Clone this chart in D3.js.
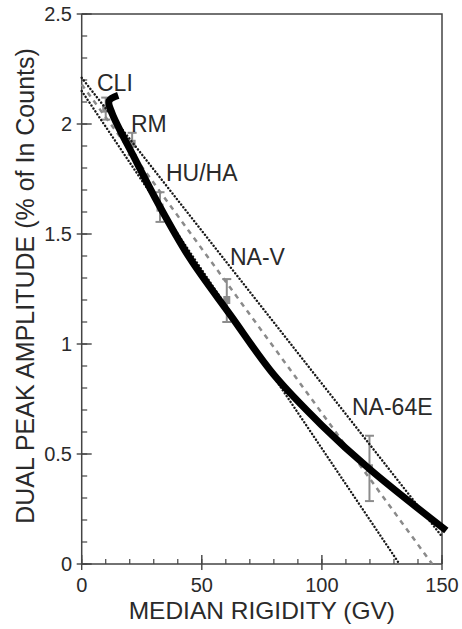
<!DOCTYPE html>
<html>
<head>
<meta charset="utf-8">
<script src="https://cdn.jsdelivr.net/npm/d3@7"></script>
<style>
  html, body { margin: 0; padding: 0; background: #fff; }
  svg { display: block; font-family: "Liberation Sans", Arial, Helvetica, sans-serif; }
</style>
</head>
<body>
<svg id="viz" width="462" height="629"></svg>
<script>
// stations: median rigidity (GV), amplitude and error bar range
const stations = ["CLI", "RM", "HU/HA", "NA-V", "NA-64E"];
const rigidity = [10, 21, 32.6, 60.4, 119.8];
const amplitude = [2.07, 1.91, 1.62, 1.20, 0.435];
const errLow = [2.02, 1.86, 1.555, 1.10, 0.286];
const errHigh = [2.12, 1.96, 1.69, 1.295, 0.583];

// fitted line and its bounds
const fitLine = [[0, 2.18], [145.9, 0]];
const upperBound = [[0, 2.21], [150, 0.125]];
const lowerBound = [[0, 2.15], [132.3, 0]];

// thick model curve
const modelCurve = [[15.2, 2.13], [11.4, 2.105], [12.6, 2.05], [22, 1.845], [32, 1.635],
  [45, 1.39], [62, 1.13], [80, 0.86], [100, 0.63], [120, 0.43], [151.8, 0.152]];

const xMajor = [0, 50, 100, 150];
const xMinor = d3.range(0, 151, 10);
const yMajor = [0, 0.5, 1, 1.5, 2, 2.5];
const yMinor = d3.range(0, 26).map(d => d / 10);
const yLabels = ["0", "0.5", "1", "1.5", "2", "2.5"];

const svg = d3.select("#viz");
const x = d3.scaleLinear().domain([0, 150]).range([81.7, 442]);
const y = d3.scaleLinear().domain([0, 2.5]).range([564, 14]);

const axisColor = "#444";
const textColor = "#2a2a2a";
const line = d3.line().x(d => x(d[0])).y(d => y(d[1]));

// frame
const frame = svg.append("g");
frame.append("path")
  .attr("d", `M${x(0)},${y(2.5)}H${x(150)}V${y(0)}`)
  .attr("fill", "none").attr("stroke", axisColor).attr("stroke-width", 1.5);
frame.append("path")
  .attr("d", `M${x(0)},${y(2.5)}V${y(0)}H${x(150)}`)
  .attr("fill", "none").attr("stroke", axisColor).attr("stroke-width", 1.5);

// y ticks
frame.selectAll(".ymin").data(yMinor).join("line")
  .attr("x1", x(0)).attr("x2", x(0) + 5.5)
  .attr("y1", d => y(d)).attr("y2", d => y(d))
  .attr("stroke", axisColor).attr("stroke-width", 1.2);
frame.selectAll(".ymaj").data(yMajor).join("line")
  .attr("x1", x(0) - 5).attr("x2", x(0) + 10)
  .attr("y1", d => y(d)).attr("y2", d => y(d))
  .attr("stroke", axisColor).attr("stroke-width", 1.4);
frame.selectAll(".ylab").data(yMajor).join("text")
  .attr("x", 72).attr("y", d => y(d) + 7)
  .attr("text-anchor", "end").attr("font-size", 20).attr("fill", textColor)
  .text((d, i) => yLabels[i]);

// x ticks
frame.selectAll(".xmin").data(xMinor).join("line")
  .attr("x1", d => x(d)).attr("x2", d => x(d))
  .attr("y1", y(0)).attr("y2", y(0) - 5)
  .attr("stroke", axisColor).attr("stroke-width", 1.2);
frame.selectAll(".xmaj").data(xMajor).join("line")
  .attr("x1", d => x(d)).attr("x2", d => x(d))
  .attr("y1", y(0) + 6).attr("y2", y(0) - 9)
  .attr("stroke", axisColor).attr("stroke-width", 1.4);
frame.selectAll(".xlab").data(xMajor).join("text")
  .attr("x", d => x(d)).attr("y", 592)
  .attr("text-anchor", "middle").attr("font-size", 20).attr("fill", textColor)
  .text(d => d);

// axis titles
svg.append("text")
  .attr("x", (x(0) + x(150)) / 2).attr("y", 619)
  .attr("text-anchor", "middle").attr("font-size", 24.5).attr("fill", textColor)
  .text("MEDIAN RIGIDITY (GV)");
svg.append("text")
  .attr("transform", `translate(34,286) rotate(-90)`)
  .attr("text-anchor", "middle").attr("font-size", 25).attr("fill", textColor)
  .text("DUAL PEAK AMPLITUDE (% of In Counts)");

// error bars
const bars = svg.append("g").attr("stroke", "#8c8c8c").attr("fill", "#8c8c8c");
stations.forEach((s, i) => {
  const cx = x(rigidity[i]);
  bars.append("line").attr("x1", cx).attr("x2", cx)
    .attr("y1", y(errLow[i])).attr("y2", y(errHigh[i])).attr("stroke-width", 2);
  [errLow[i], errHigh[i]].forEach(v => {
    bars.append("line").attr("x1", cx - 4.5).attr("x2", cx + 4.5)
      .attr("y1", y(v)).attr("y2", y(v)).attr("stroke-width", 2);
  });
  bars.append("rect").attr("x", cx - 3.5).attr("y", y(amplitude[i]) - 4)
    .attr("width", 7).attr("height", 8).attr("stroke", "none");
});

// fit and bounds
svg.append("path").attr("d", line(fitLine))
  .attr("fill", "none").attr("stroke", "#8a8a8a").attr("stroke-width", 2.5)
  .attr("stroke-dasharray", "5,5");
[upperBound, lowerBound].forEach(b => {
  svg.append("path").attr("d", line(b))
    .attr("fill", "none").attr("stroke", "#1a1a1a").attr("stroke-width", 2.4)
    .attr("stroke-linecap", "round").attr("stroke-dasharray", "0.1,3.4");
});

// model curve
svg.append("path").attr("d", line.curve(d3.curveCatmullRom.alpha(0.5))(modelCurve))
  .attr("fill", "none").attr("stroke", "#000").attr("stroke-width", 7)
  .attr("stroke-linejoin", "round");

// station labels
const labelPos = [[97, 91], [131, 132], [166, 181], [230, 265], [352, 415]];
svg.selectAll(".slab").data(stations).join("text")
  .attr("x", (d, i) => labelPos[i][0]).attr("y", (d, i) => labelPos[i][1])
  .attr("font-size", 23).attr("fill", textColor)
  .text(d => d);
</script>
</body>
</html>
